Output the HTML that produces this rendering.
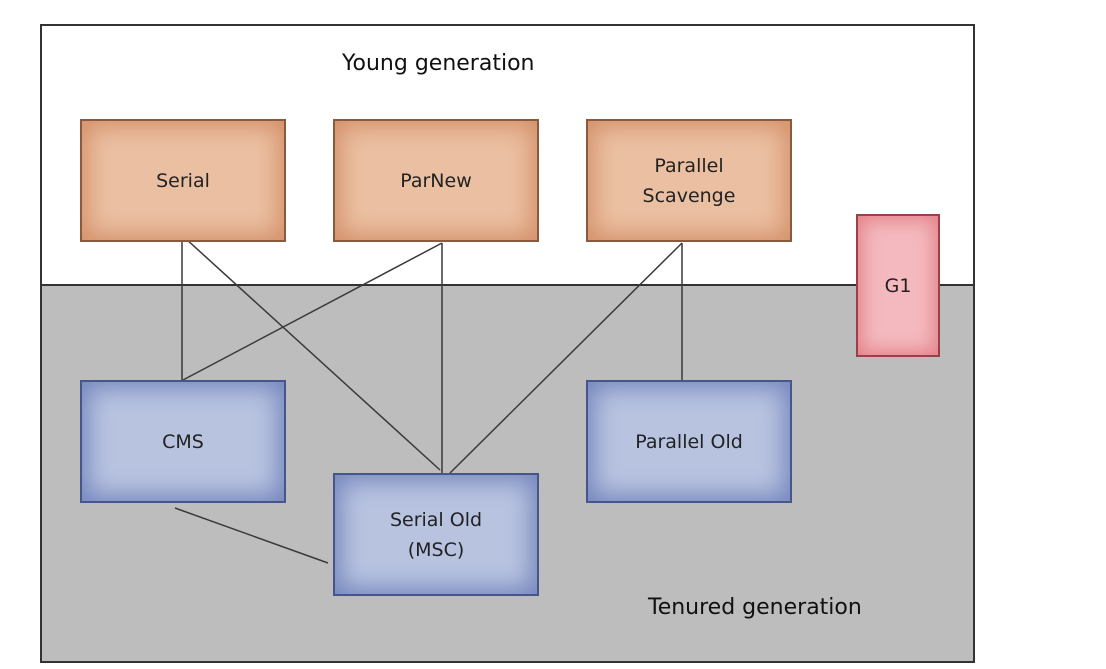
<!DOCTYPE html>
<html><head><style>
body{margin:0;width:1106px;height:669px;background:#fff;position:relative;overflow:hidden;font-family:"Comic Sans MS","DejaVu Sans","Liberation Sans",sans-serif;}
.frame{position:absolute;left:40px;top:24px;width:931px;height:635px;border:2px solid #333;background:#fff;}
.gray{position:absolute;left:42px;top:284px;width:931px;height:375px;background:#bdbdbd;border-top:2px solid #333;}
.b{position:absolute;box-sizing:border-box;display:flex;align-items:center;justify-content:center;text-align:center;font-size:19px;color:#222;line-height:30px;}
.o{background:#ebc0a2;border:2px solid #8a5a3c;box-shadow:inset 0 0 24px 6px #d4906a;}
.u{background:#b8c3e0;border:2px solid #46568a;box-shadow:inset 0 0 24px 6px #7486bd;}
.p{background:#f3b9be;border:2px solid #9a4048;box-shadow:inset 0 0 18px 4px #e48088;}
.t{position:absolute;font-size:22px;color:#111;}
svg{position:absolute;left:0;top:0;}
</style></head><body>
<div class="frame"></div>
<div class="gray"></div>
<svg width="1106" height="669"><g stroke="#3a3a3a" stroke-width="1.5" fill="none">
<line x1="182" y1="241" x2="182" y2="380"/>
<line x1="185" y1="238" x2="440" y2="470"/>
<line x1="442" y1="243" x2="183" y2="380"/>
<line x1="442" y1="243" x2="442" y2="473"/>
<line x1="682" y1="243" x2="450" y2="473"/>
<line x1="682" y1="243" x2="682" y2="380"/>
<line x1="175" y1="508" x2="328" y2="563"/>
</g></svg>
<div class="t" style="left:342px;top:51px">Young generation</div>
<div class="t" style="left:648px;top:595px">Tenured generation</div>
<div class="b o" style="left:80px;top:119px;width:206px;height:123px">Serial</div>
<div class="b o" style="left:333px;top:119px;width:206px;height:123px">ParNew</div>
<div class="b o" style="left:586px;top:119px;width:206px;height:123px">Parallel<br>Scavenge</div>
<div class="b u" style="left:80px;top:380px;width:206px;height:123px">CMS</div>
<div class="b u" style="left:333px;top:473px;width:206px;height:123px">Serial Old<br>(MSC)</div>
<div class="b u" style="left:586px;top:380px;width:206px;height:123px">Parallel Old</div>
<div class="b p" style="left:856px;top:214px;width:84px;height:143px">G1</div>
</body></html>
